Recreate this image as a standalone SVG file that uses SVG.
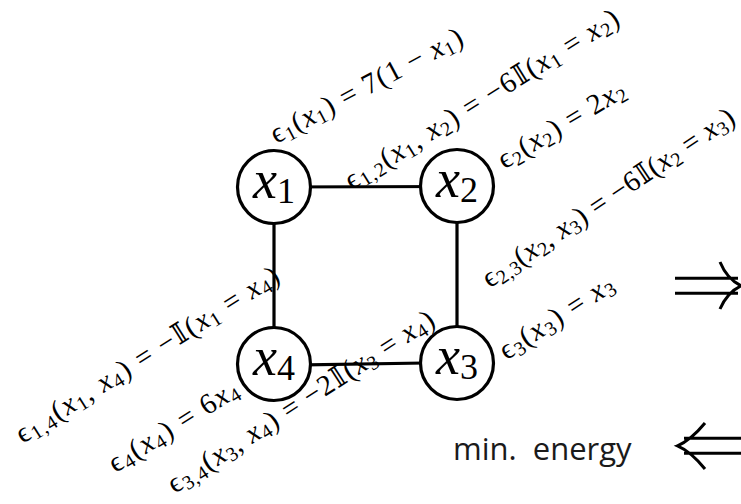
<svg xmlns="http://www.w3.org/2000/svg" width="741" height="504" viewBox="0 0 741 504">
<style>
.m{font-family:"Liberation Serif","DejaVu Serif",serif;font-size:29px;fill:#000}
.v{font-style:italic}
.s{font-size:20px}
.nt{font-family:"Liberation Serif","DejaVu Serif",serif;font-size:54px;fill:#000}
.ns{font-size:36px;font-style:normal}
.edge{stroke:#000;stroke-width:3.2;fill:none}
.node{fill:#fff;stroke:#000;stroke-width:3.2}
.arr{stroke:#000;stroke-width:3;fill:none;stroke-linecap:butt}
</style>
<g id="labels">
<text class="m" transform="translate(367.5,87.5) rotate(-28)" y="7" text-anchor="middle" textLength="214">ϵ<tspan class="s" dy="4">1</tspan><tspan dy="-4">(</tspan><tspan class="v">x</tspan><tspan class="s" dy="4">1</tspan><tspan dy="-4">) = 7(1 − </tspan><tspan class="v">x</tspan><tspan class="s" dy="4">1</tspan><tspan dy="-4">)</tspan></text>
<text class="m" transform="translate(483,101) rotate(-31.7)" y="7" text-anchor="middle" textLength="317">ϵ<tspan class="s" dy="4">1,2</tspan><tspan dy="-4">(</tspan><tspan class="v">x</tspan><tspan class="s" dy="4">1</tspan><tspan dy="-4">, </tspan><tspan class="v">x</tspan><tspan class="s" dy="4">2</tspan><tspan dy="-4">) = −6𝕀(</tspan><tspan class="v">x</tspan><tspan class="s" dy="4">1</tspan><tspan dy="-4"> = </tspan><tspan class="v">x</tspan><tspan class="s" dy="4">2</tspan><tspan dy="-4">)</tspan></text>
<text class="m" transform="translate(562.5,126.5) rotate(-31)" y="7" text-anchor="middle" textLength="144">ϵ<tspan class="s" dy="4">2</tspan><tspan dy="-4">(</tspan><tspan class="v">x</tspan><tspan class="s" dy="4">2</tspan><tspan dy="-4">) = 2</tspan><tspan class="v">x</tspan><tspan class="s" dy="4">2</tspan></text>
<text class="m" transform="translate(609.5,199.5) rotate(-33.9)" y="7" text-anchor="middle" textLength="298">ϵ<tspan class="s" dy="4">2,3</tspan><tspan dy="-4">(</tspan><tspan class="v">x</tspan><tspan class="s" dy="4">2</tspan><tspan dy="-4">, </tspan><tspan class="v">x</tspan><tspan class="s" dy="4">3</tspan><tspan dy="-4">) = −6𝕀(</tspan><tspan class="v">x</tspan><tspan class="s" dy="4">2</tspan><tspan dy="-4"> = </tspan><tspan class="v">x</tspan><tspan class="s" dy="4">3</tspan><tspan dy="-4">)</tspan></text>
<text class="m" transform="translate(557.5,319) rotate(-33)" y="7" text-anchor="middle" textLength="131">ϵ<tspan class="s" dy="4">3</tspan><tspan dy="-4">(</tspan><tspan class="v">x</tspan><tspan class="s" dy="4">3</tspan><tspan dy="-4">) = </tspan><tspan class="v">x</tspan><tspan class="s" dy="4">3</tspan></text>
<text class="m" transform="translate(148.5,356.5) rotate(-32.2)" y="7" text-anchor="middle" textLength="306">ϵ<tspan class="s" dy="4">1,4</tspan><tspan dy="-4">(</tspan><tspan class="v">x</tspan><tspan class="s" dy="4">1</tspan><tspan dy="-4">, </tspan><tspan class="v">x</tspan><tspan class="s" dy="4">4</tspan><tspan dy="-4">) = −𝕀(</tspan><tspan class="v">x</tspan><tspan class="s" dy="4">1</tspan><tspan dy="-4"> = </tspan><tspan class="v">x</tspan><tspan class="s" dy="4">4</tspan><tspan dy="-4">)</tspan></text>
<text class="m" transform="translate(174.5,428) rotate(-32)" y="7" text-anchor="middle" textLength="148">ϵ<tspan class="s" dy="4">4</tspan><tspan dy="-4">(</tspan><tspan class="v">x</tspan><tspan class="s" dy="4">4</tspan><tspan dy="-4">) = 6</tspan><tspan class="v">x</tspan><tspan class="s" dy="4">4</tspan></text>
<text class="m" transform="translate(302,403.5) rotate(-32.9)" y="7" text-anchor="middle" textLength="312">ϵ<tspan class="s" dy="4">3,4</tspan><tspan dy="-4">(</tspan><tspan class="v">x</tspan><tspan class="s" dy="4">3</tspan><tspan dy="-4">, </tspan><tspan class="v">x</tspan><tspan class="s" dy="4">4</tspan><tspan dy="-4">) = −2𝕀(</tspan><tspan class="v">x</tspan><tspan class="s" dy="4">3</tspan><tspan dy="-4"> = </tspan><tspan class="v">x</tspan><tspan class="s" dy="4">4</tspan><tspan dy="-4">)</tspan></text>
</g>
<g id="edges">
<line class="edge" x1="274" y1="187" x2="457" y2="186.5"/>
<line class="edge" x1="274" y1="187" x2="274" y2="364"/>
<line class="edge" x1="457" y1="186" x2="457" y2="363"/>
<line class="edge" x1="274" y1="365.3" x2="457" y2="362.5"/>
</g>
<g id="x1"><circle class="node" cx="274" cy="187" r="36.5"/><text class="nt" x="274" y="198" text-anchor="middle"><tspan font-style="italic">x</tspan><tspan class="ns" dy="5">1</tspan></text></g>
<g id="x2"><circle class="node" cx="457" cy="186" r="36.5"/><text class="nt" x="457" y="197" text-anchor="middle"><tspan font-style="italic">x</tspan><tspan class="ns" dy="5">2</tspan></text></g>
<g id="x3"><circle class="node" cx="457" cy="363" r="36.5"/><text class="nt" x="457" y="374" text-anchor="middle"><tspan font-style="italic">x</tspan><tspan class="ns" dy="5">3</tspan></text></g>
<g id="x4"><circle class="node" cx="274" cy="364" r="36.5"/><text class="nt" x="274" y="375" text-anchor="middle"><tspan font-style="italic">x</tspan><tspan class="ns" dy="5">4</tspan></text></g>
<g id="arrows">
<path class="arr" d="M675,278.3 H738 M675,293.3 H738 M720,262 Q727,279 741,285.8 Q727,292.5 720,309"/>
<path class="arr" d="M684,438.3 H741 M684,453.3 H741 M705,423 Q691,440 677.5,445.8 Q691,451.5 705,469"/>
</g>
<text x="453" y="460" style="font-family:'Open Sans','Noto Sans',sans-serif;font-size:31px;fill:#1a1a1a;white-space:pre" xml:space="preserve">min.  energy</text>
</svg>
